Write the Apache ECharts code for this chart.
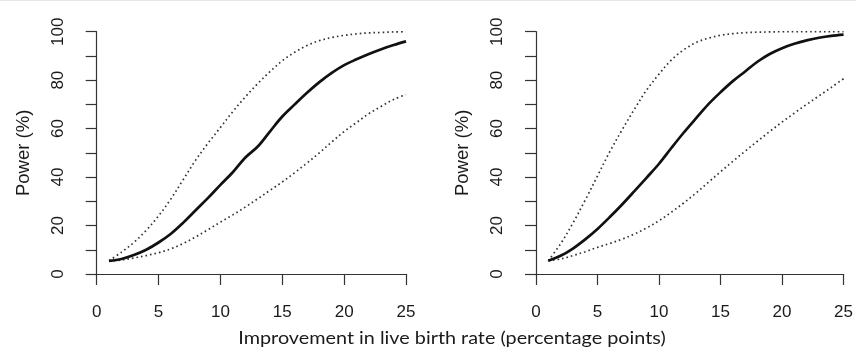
<!DOCTYPE html>
<html>
<head>
<meta charset="utf-8">
<script src="https://cdn.jsdelivr.net/npm/echarts@6/dist/echarts.min.js"></script>
<style>
  html, body { margin: 0; padding: 0; background: #fff; }
  #chart { width: 856px; height: 352px; }
</style>
</head>
<body>
<div id="chart"></div>
<script>
// improvement in live birth rate (percentage points)
var xVals = [1, 2, 3, 4, 5, 6, 7, 8, 9, 10, 11, 12, 13, 14, 15, 16, 17, 18, 19, 20, 21, 22, 23, 24, 25];

// left panel: power (%) and the dotted bounds
var leftPower = [5.4, 6.2, 7.8, 10.0, 13.0, 16.6, 21.2, 26.3, 31.4, 36.8, 42.0, 48.0, 52.5, 58.8, 65.0, 70.0, 74.8, 79.2, 83.0, 86.2, 88.6, 90.8, 92.8, 94.5, 96.0];
var leftUpper = [5.5, 9.0, 13.0, 18.0, 24.0, 31.0, 39.0, 47.0, 54.0, 60.5, 67.0, 73.0, 78.5, 83.5, 88.0, 91.5, 94.3, 96.3, 97.6, 98.5, 99.1, 99.5, 99.7, 99.9, 100];
var leftLower = [5.3, 5.8, 6.6, 7.6, 8.8, 10.4, 12.6, 15.3, 18.3, 21.4, 24.4, 27.6, 31.0, 34.5, 38.0, 41.8, 45.8, 50.0, 54.5, 58.8, 62.5, 66.2, 69.2, 72.0, 74.1];

// right panel
var rightPower = [5.5, 7.5, 10.5, 14.3, 18.6, 23.5, 28.7, 34.2, 39.8, 45.5, 52.0, 58.3, 64.2, 70.0, 75.0, 79.6, 83.6, 87.6, 90.8, 93.2, 95.0, 96.4, 97.5, 98.3, 98.8];
var rightUpper = [5.5, 12.5, 21.0, 30.5, 40.5, 50.5, 59.5, 68.0, 76.0, 82.5, 88.3, 92.5, 95.5, 97.3, 98.5, 99.2, 99.6, 99.8, 99.9, 100, 100, 100, 100, 100, 100];
var rightLower = [5.5, 6.2, 7.6, 9.2, 11.0, 12.6, 14.4, 16.5, 19.0, 22.0, 25.5, 29.3, 33.4, 37.8, 42.2, 46.5, 50.7, 54.8, 58.8, 62.7, 66.4, 70.0, 73.5, 77.0, 80.6];

var xTitle = 'Improvement in live birth rate (percentage points)';
var yTitle = 'Power (%)';

function pairs(ys) {
  return ys.map(function (y, i) { return [xVals[i], y]; });
}

var tickFont = { fontFamily: 'Arial, Liberation Sans', fontSize: 17, color: '#1a1a1a' };

function makeX(idx) {
  return {
    gridIndex: idx, type: 'value', min: 0, max: 25, interval: 5, offset: 10,
    axisLine: { lineStyle: { color: '#333', width: 1.2 } },
    axisTick: { length: 11, lineStyle: { color: '#333', width: 1.2 } },
    axisLabel: Object.assign({ margin: 20 }, tickFont),
    splitLine: { show: false }
  };
}

function makeY(idx, off) {
  return {
    gridIndex: idx, type: 'value', min: 0, max: 100, interval: 10, offset: off,
    name: yTitle, nameLocation: 'middle', nameRotate: 90, nameGap: 50,
    nameTextStyle: { fontFamily: 'Arial, Liberation Sans', fontSize: 18.5, color: '#1a1a1a' },
    axisLine: { show: true, lineStyle: { color: '#333', width: 1.2 } },
    axisTick: { show: true, length: 11, lineStyle: { color: '#333', width: 1.2 } },
    axisLabel: Object.assign({
      rotate: 90, margin: 16.5,
      formatter: function (v) { return v % 20 === 0 ? String(v) : ''; }
    }, tickFont),
    splitLine: { show: false }
  };
}

function line(idx, ys, dotted) {
  return {
    type: 'line', xAxisIndex: idx, yAxisIndex: idx,
    data: pairs(ys), showSymbol: false, smooth: 0.35, animation: false,
    lineStyle: dotted
      ? { color: '#333', width: 1.7, type: [1.6, 3] }
      : { color: '#111', width: 2.7 }
  };
}

var chart = echarts.init(document.getElementById('chart'));
chart.setOption({
  animation: false,
  backgroundColor: '#fff',
  grid: [
    { left: 96.7, top: 31.7, width: 309.3, height: 242.3 },
    { left: 536, top: 31.7, width: 309.3, height: 242.3 }
  ],
  xAxis: [makeX(0), makeX(1)],
  yAxis: [makeY(0, 13.4), makeY(1, 13.3)],
  graphic: [
    { type: 'rect', shape: { x: 0, y: 0, width: 856, height: 1 }, style: { fill: '#dfe9f1' } },
    {
      type: 'text', x: 452, y: 338, scaleX: 1.1,
      style: {
        text: xTitle, fontFamily: 'Lato', fontSize: 18, fill: '#1a1a1a',
        textAlign: 'center', textVerticalAlign: 'middle'
      }
    }
  ],
  series: [
    line(0, leftUpper, true),
    line(0, leftLower, true),
    line(0, leftPower, false),
    line(1, rightUpper, true),
    line(1, rightLower, true),
    line(1, rightPower, false)
  ]
});
</script>
</body>
</html>
